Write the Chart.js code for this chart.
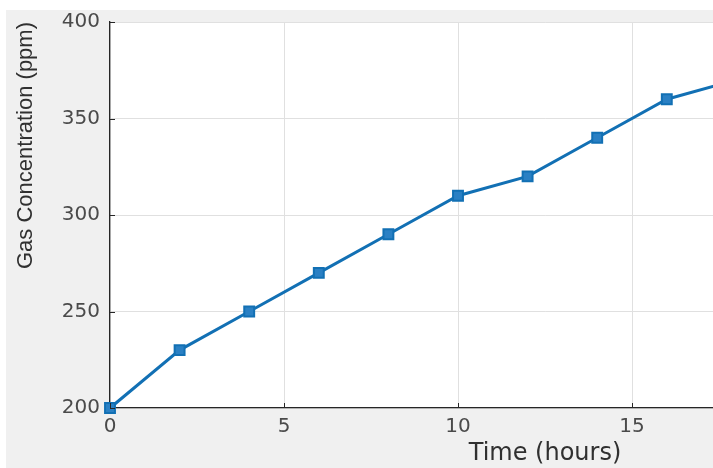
<!DOCTYPE html>
<html>
<head>
<meta charset="utf-8">
<script src="https://cdn.jsdelivr.net/npm/chart.js@4.4.1/dist/chart.umd.min.js"></script>
<style>
    html, body { margin: 0; padding: 0; overflow: hidden; background: #fff; }
    #wrap { width: 1000px; height: 468px; }
</style>
</head>
<body>
<div id="wrap"><canvas id="myChart" width="1000" height="468" style="width:1000px;height:468px"></canvas></div>
<script>
// 측정 데이터 (시간 / 농도)
const hours = [0, 2, 4, 6, 8, 10, 12, 14, 16, 18];
const gasPpm = [200, 230, 250, 270, 290, 310, 320, 340, 360, 370];
const xTicks = [0, 5, 10, 15, 20, 25];
const yTicks = [200, 250, 300, 350, 400];

const lineColor = '#1270b4';
const axisColor = '#262626';

// 회색 figure 배경 + 흰색 plot 영역
const background = {
    id: 'background',
    beforeDraw(chart) {
        const {ctx, chartArea: a, width, height} = chart;
        ctx.save();
        ctx.fillStyle = '#ffffff';
        ctx.fillRect(0, 0, width, height);
        ctx.fillStyle = '#f0f0f0';
        ctx.fillRect(6, 10, width - 6, height - 10);
        ctx.fillStyle = '#ffffff';
        ctx.fillRect(a.left, a.top, a.right - a.left, a.bottom - a.top);
        ctx.restore();
    }
};

// MATLAB 처럼 안쪽으로 향하는 눈금
const inwardTicks = {
    id: 'inwardTicks',
    afterDraw(chart) {
        const {ctx, chartArea: a, scales} = chart;
        ctx.save();
        ctx.strokeStyle = axisColor;
        ctx.lineWidth = 1;
        ctx.beginPath();
        scales.x.ticks.forEach(t => {
            const px = Math.round(scales.x.getPixelForValue(t.value)) + 0.5;
            ctx.moveTo(px, a.bottom);
            ctx.lineTo(px, a.bottom - 5);
        });
        scales.y.ticks.forEach(t => {
            const py = Math.round(scales.y.getPixelForValue(t.value)) + 0.5;
            ctx.moveTo(a.left, py);
            ctx.lineTo(a.left + 5, py);
        });
        ctx.stroke();
        ctx.restore();
    }
};

drawChart();

function drawChart(){
    const ctx = document.querySelector("#myChart");

    new Chart(ctx, {
        type: 'line',
        data: {
            datasets: [{
                label: 'Gas Concentration',
                data: hours.map((h, i) => ({x: h, y: gasPpm[i]})),
                borderColor: lineColor,
                backgroundColor: '#2a80c4',
                borderWidth: 3,
                pointStyle: 'rect',
                pointRadius: 7,
                pointBorderWidth: 2,
                pointBorderColor: lineColor,
                clip: false,
                tension: 0
            }]
        },
        options: {
            responsive: false,
            animation: false,
            devicePixelRatio: 1,
            layout: { padding: { top: 15, right: 20, bottom: 0, left: 0 } },
            plugins: {
                legend: { display: false },
                tooltip: { enabled: false }
            },
            scales: {
                x: {
                    type: 'linear',
                    min: 0,
                    max: 25,
                    afterBuildTicks: (s) => { s.ticks = xTicks.map(v => ({value: v})); },
                    afterFit: (s) => { s.height = 60; },
                    grid: { color: '#e0e0e0', drawTicks: false },
                    border: { color: axisColor, width: 1.3 },
                    ticks: {
                        padding: 7,
                        color: '#4a4a4a',
                        font: { family: 'DejaVu Sans', size: 20 }
                    },
                    title: {
                        display: true,
                        text: 'Time (hours)',
                        color: '#303030',
                        padding: { top: 0, bottom: 0 },
                        font: { family: 'DejaVu Sans', size: 24 }
                    }
                },
                y: {
                    min: 200,
                    max: 400,
                    afterBuildTicks: (s) => { s.ticks = yTicks.map(v => ({value: v})); },
                    afterFit: (s) => { s.width = 110; },
                    grid: { color: '#e0e0e0', drawTicks: false },
                    border: { color: axisColor, width: 1.3 },
                    ticks: {
                        padding: 10,
                        color: '#4a4a4a',
                        font: { family: 'DejaVu Sans', size: 20 }
                    },
                    title: {
                        display: true,
                        text: 'Gas Concentration (ppm)',
                        align: 'end',
                        color: '#303030',
                        padding: { top: 13, bottom: 0 },
                        font: { family: 'Liberation Sans', size: 22 }
                    }
                }
            }
        },
        plugins: [background, inwardTicks]
    });
}
</script>
</body>
</html>
